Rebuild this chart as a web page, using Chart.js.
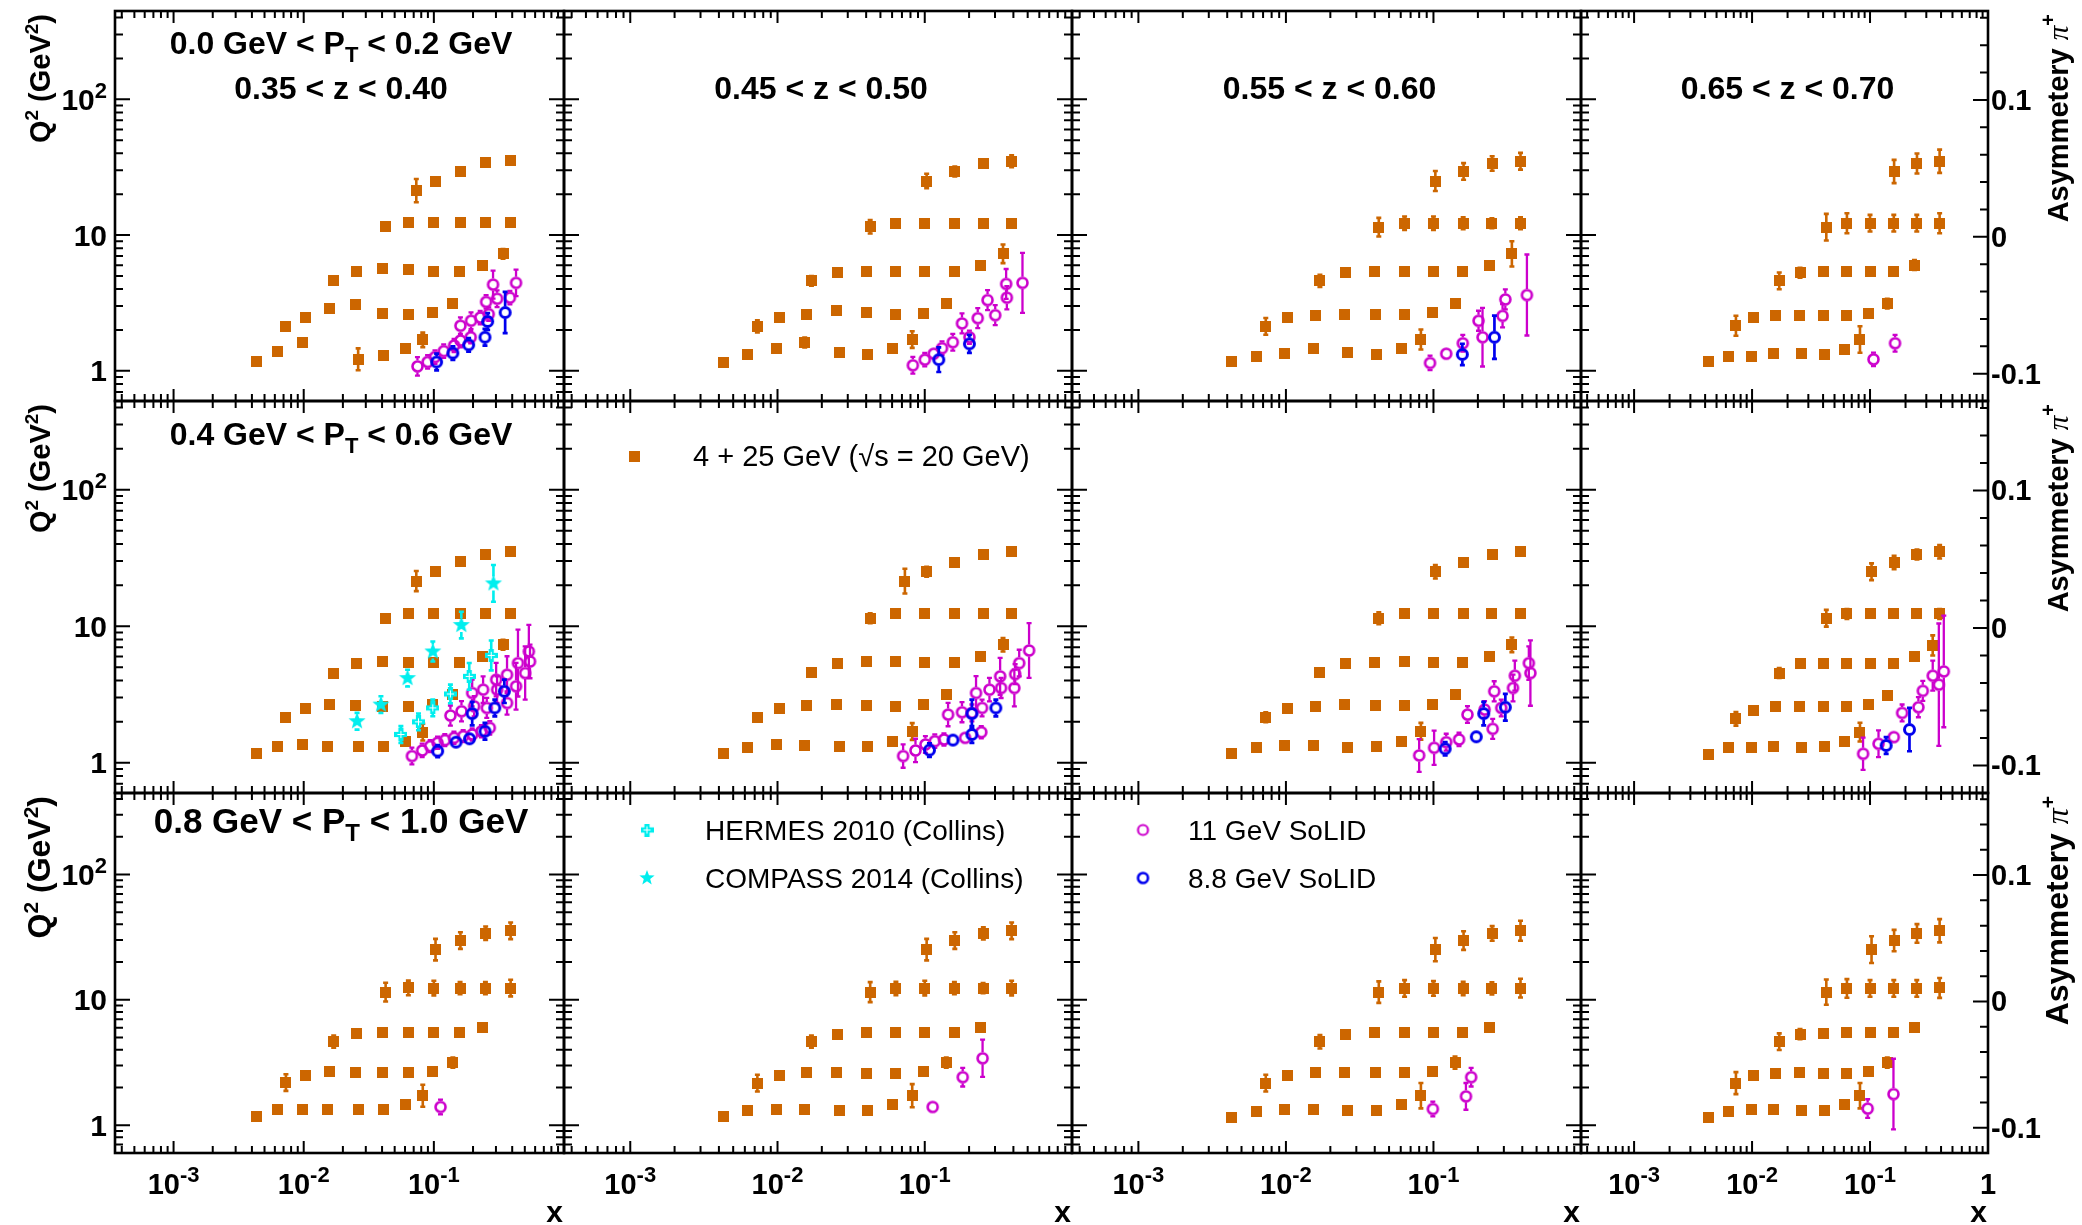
<!DOCTYPE html>
<html>
<head>
<meta charset="utf-8">
<title>Asymmetry projections</title>
<script src="https://cdn.jsdelivr.net/npm/chart.js@4.4.1/dist/chart.umd.min.js"></script>
<style>
html,body{margin:0;padding:0;background:#ffffff;}
body{position:relative;width:2082px;height:1225px;overflow:hidden;}
canvas{position:absolute;display:block;}
</style>
</head>
<body>
<script>
// ---------------- DATA ----------------
// x bins of the 4+25 GeV projection, one list per Q^2 row (A lowest ... E highest)
const orangeX_A = [0.0043, 0.0063, 0.0098, 0.0153, 0.0262, 0.0410, 0.0603, 0.0822];
const orangeX_B = [0.0073, 0.0103, 0.0158, 0.0251, 0.0402, 0.0635, 0.0980, 0.140];
const orangeX_C = [0.0170, 0.0255, 0.0400, 0.0634, 0.100, 0.1585, 0.238, 0.340];
const orangeX_D = [0.0426, 0.0637, 0.100, 0.159, 0.249, 0.389];
const orangeX_E = [0.0733, 0.103, 0.160, 0.250, 0.389];

// tick labels
const xTickVals = [0.001, 0.01, 0.1, 1];
const xTickBase = ['10', '10', '10', '1'];
const xTickExp  = ['-3', '-2', '-1', ''];
const yTickVals = [1, 10, 100];
const yTickBase = ['1', '10', '10'];
const yTickExp  = ['', '', '2'];
const asymTickVals = [-0.1, 0, 0.1];
const asymTickText = ['-0.1', '0', '0.1'];

// panel labels
const zBins  = ['0.35 < z < 0.40', '0.45 < z < 0.50', '0.55 < z < 0.60', '0.65 < z < 0.70'];
const ptLow  = ['0.0', '0.4', '0.8'];
const ptHigh = ['0.2', '0.6', '1.0'];
const legendText = ['4 + 25 GeV (\u221As = 20 GeV)', 'HERMES 2010 (Collins)', 'COMPASS 2014 (Collins)', '11 GeV SoLID', '8.8 GeV SoLID'];

// orange (4+25 GeV) plotted Q^2 positions, rows A..E; errors in asymmetry units
const p11_orange = [[1.176,1.390,1.608,null,1.216,1.307,1.462,1.691],[2.114,2.473,2.859,3.075,2.660,2.615,2.675,3.127],[4.598,5.347,5.687,5.561,5.438,5.438,6.015,7.272],[11.50,12.30,12.30,12.30,12.30,12.30],[21.27,25.01,29.40,34.01,35.36]];
const p11_orangeErr = [[0,0,0,0,0.008,0,0,0.0053],[0,0,0,0,0,0,0,0],[0,0,0,0,0,0,0,0.0036],[0,0,0,0,0,0],[0.0085,0.0029,0,0,0]];
const p12_orange = [[1.144,1.330,1.462,1.617,1.367,1.315,1.462,1.701],[2.127,2.473,2.615,2.765,2.675,2.615,2.660,3.127],[4.598,5.288,5.408,5.408,5.408,5.408,6.015,7.272],[11.50,12.23,12.23,12.23,12.23,12.23],[null,25.01,29.40,33.63,34.97]];
const p12_orangeErr = [[0,0,0,0.0036,0,0,0,0.0061],[0.0044,0,0,0,0,0,0,0],[0.0036,0,0,0,0,0,0,0.0068],[0.0049,0,0,0,0,0.0024],[0,0.0053,0.0036,0.0029,0.0044]];
const p13_orange = [[1.163,1.286,1.345,1.470,1.375,1.315,1.454,1.701],[2.127,2.473,2.572,2.615,2.615,2.590,2.675,3.127],[4.598,5.288,5.408,5.408,5.408,5.408,6.015,7.272],[11.43,12.23,12.23,12.23,12.23,12.23],[null,25.01,29.40,33.63,34.97]];
const p13_orangeErr = [[0,0,0,0,0,0,0,0.0073],[0.0061,0,0,0,0,0,0,0.0029],[0.0044,0,0,0,0,0,0,0.0092],[0.0068,0.0049,0.0049,0.0044,0.0036,0.0044],[0,0.0073,0.0061,0.0053,0.0061]];
const p14_orange = [[1.176,1.286,1.286,1.352,1.352,1.330,1.438,1.701],[2.151,2.473,2.550,2.572,2.572,2.572,2.644,3.127],[4.598,5.288,5.408,5.408,5.408,5.408,6.015,null],[11.43,12.23,12.23,12.23,12.23,12.23],[null,null,29.40,33.63,34.97]];
const p14_orangeErr = [[0,0,0,0,0,0,0,0.0097],[0.0073,0,0,0,0,0,0,0.0036],[0.0061,0.0036,0.0029,0,0,0,0.0036,0],[0.0097,0.0073,0.0061,0.0061,0.0061,0.0073],[0,0,0.0085,0.0073,0.0085]];
const p21_orange = [[1.170,1.309,1.361,1.323,1.309,1.309,1.439,1.674],[2.130,2.479,2.666,2.621,2.592,2.592,2.666,3.160],[4.540,5.370,5.522,5.430,5.430,5.430,6.004,7.306],[11.44,12.44,12.44,12.44,12.44,12.44],[21.42,25.06,29.65,33.73,35.47]];
const p21_orangeErr = [[0,0,0,0,0,0,0,0.0061],[0,0,0,0,0,0,0,0],[0,0,0,0,0,0,0,0.0036],[0,0,0,0,0,0],[0.0073,0,0,0,0]];
const p22_orange = [[1.170,1.301,1.361,1.331,1.309,1.309,1.439,1.693],[2.154,2.479,2.621,2.651,2.621,2.592,2.666,3.136],[4.590,5.310,5.522,5.522,5.430,5.430,6.004,7.306],[11.44,12.30,12.30,12.30,12.30,12.30],[21.42,25.06,29.49,33.73,35.27]];
const p22_orangeErr = [[0,0,0,0,0,0,0,0.0061],[0,0,0,0,0,0,0,0],[0,0,0,0,0,0,0,0.0049],[0.0036,0,0,0,0,0],[0.009,0.0036,0,0,0]];
const p23_orange = [[1.163,1.301,1.346,1.331,1.301,1.316,1.439,1.700],[2.154,2.479,2.592,2.651,2.621,2.621,2.666,3.136],[4.590,5.310,5.430,5.470,5.450,5.430,6.004,7.306],[11.44,12.30,12.30,12.30,12.30,12.30],[null,25.06,29.49,33.73,35.27]];
const p23_orangeErr = [[0,0,0,0,0,0,0,0.0061],[0.0036,0,0,0,0,0,0,0],[0,0,0,0,0,0,0,0.0053],[0.0044,0,0,0,0,0],[0,0.0049,0,0,0]];
const p24_orange = [[1.150,1.301,1.301,1.323,1.301,1.309,1.423,1.674],[2.095,2.420,2.562,2.592,2.592,2.592,2.651,3.100],[4.540,5.310,5.370,5.370,5.370,5.370,5.950,7.230],[11.44,12.30,12.30,12.30,12.30,12.30],[null,25.06,29.30,33.60,35.10]];
const p24_orangeErr = [[0,0,0,0,0,0,0,0.0068],[0.0049,0,0,0,0,0,0,0],[0.0036,0,0,0,0,0,0,0.0073],[0.0061,0.0036,0.0029,0.0029,0.0029,0.0036],[0,0.0061,0.0049,0.0036,0.0049]];
const p31_orange = [[1.171,1.323,1.339,1.323,1.323,1.323,1.449,1.719],[2.190,2.500,2.663,2.630,2.630,2.630,2.679,3.157],[4.632,5.394,5.530,5.494,5.494,5.460,6.040,null],[11.52,12.45,12.41,12.41,12.41,12.41],[null,25.14,29.70,34.00,35.55]];
const p31_orangeErr = [[0,0,0,0,0,0,0,0.0087],[0.0066,0,0,0,0,0,0,0.004],[0.0048,0,0,0,0,0,0,0],[0.0074,0.0058,0.0058,0.0048,0.0048,0.0066],[0,0.0085,0.0066,0.0053,0.0066]];
const p32_orange = [[1.171,1.307,1.323,1.323,1.315,1.307,1.449,1.719],[2.165,2.476,2.614,2.630,2.598,2.598,2.663,3.157],[4.632,5.330,5.530,5.460,5.460,5.460,6.040,null],[11.52,12.33,12.41,12.41,12.41,12.41],[null,25.14,29.70,33.86,35.55]];
const p32_orangeErr = [[0,0,0,0,0,0,0,0.0092],[0.0066,0,0,0,0,0,0,0.004],[0.0048,0,0,0,0,0,0,0],[0.0079,0.0053,0.0058,0.0048,0.004,0.0058],[0,0.0085,0.0066,0.0048,0.0066]];
const p33_orange = [[1.157,1.291,1.331,1.331,1.315,1.315,1.449,1.719],[2.165,2.490,2.630,2.630,2.630,2.630,2.663,3.157],[4.632,5.330,5.460,5.500,5.460,5.460,6.040,null],[11.52,12.33,12.33,12.33,12.33,12.41],[null,25.14,29.70,33.86,35.55]];
const p33_orangeErr = [[0,0,0,0,0,0,0,0.01],[0.0066,0,0,0,0,0,0,0.0048],[0.0053,0,0,0,0,0,0,0],[0.0085,0.0066,0.0058,0.0053,0.0048,0.0074],[0,0.0092,0.0074,0.0058,0.0079]];
const p34_orange = [[1.157,1.291,1.323,1.323,1.315,1.307,1.449,1.719],[2.165,2.490,2.598,2.630,2.598,2.598,2.679,3.157],[4.632,5.330,5.394,5.460,5.460,5.460,6.017,null],[11.52,12.33,12.33,12.33,12.33,12.45],[null,25.14,29.70,33.86,35.55]];
const p34_orangeErr = [[0,0,0,0,0,0,0,0.01],[0.0087,0,0,0,0,0,0,0.004],[0.0066,0.004,0,0,0,0,0.0032,0],[0.01,0.0074,0.0066,0.0066,0.0066,0.0079],[0,0.0106,0.0085,0.0074,0.0092]];

// SoLID 11 GeV (magenta) and 8.8 GeV (blue): [x, plotted Q^2, error in asymmetry units]
const p11_mag = [[0.0748,1.08,0.0068],[0.0895,1.163,0.0049],[0.102,1.264,0.0049],[0.119,1.398,0.0049],[0.143,1.538,0.0049],[0.160,1.672,0.0049],[0.192,1.769,0.0044],[0.160,2.15,0.0061],[0.193,2.34,0.0061],[0.227,2.47,0.0049],[0.252,3.22,0.0049],[0.264,2.615,0.0049],[0.285,4.32,0.0102],[0.306,3.40,0.0061],[0.384,3.46,0.0049],[0.428,4.45,0.0097]];
const p11_blue = [[0.105,1.163,0.0061],[0.140,1.352,0.0049],[0.185,1.555,0.0049],[0.247,1.769,0.0061],[0.259,2.31,0.0061],[0.353,2.69,0.0151]];
const p12_mag = [[0.083,1.10,0.0061],[0.100,1.209,0.0049],[0.115,1.337,0.0036],[0.131,1.470,0.0049],[0.155,1.626,0.0061],[0.179,2.236,0.0073],[0.201,1.769,0.0049],[0.229,2.445,0.0073],[0.267,3.32,0.0073],[0.301,2.572,0.0073],[0.357,4.37,0.0109],[0.361,3.46,0.0085],[0.461,4.45,0.0219]];
const p12_blue = [[0.1245,1.209,0.009],[0.201,1.581,0.0066]];
const p13_mag = [[0.0948,1.144,0.0053],[0.122,1.337,0.0036],[0.158,1.599,0.0061],[0.202,2.339,0.0073],[0.215,1.769,0.0214],[0.307,3.36,0.0073],[0.294,2.543,0.0085],[0.430,3.62,0.0296]];
const p13_blue = [[0.157,1.322,0.0078],[0.259,1.769,0.0158]];
const p14_mag = [[0.107,1.216,0.0049],[0.163,1.599,0.0061]];
const p14_blue = [];
const p21_mag = [[0.0678,1.119,0.0061],[0.0813,1.230,0.0049],[0.0937,1.323,0.0044],[0.1067,1.40,0.0044],[0.1214,1.464,0.0044],[0.1427,1.522,0.0044],[0.168,1.565,0.0044],[0.197,1.61,0.0044],[0.232,1.70,0.0044],[0.269,1.80,0.0049],[0.134,2.216,0.0073],[0.163,2.383,0.0073],[0.197,3.243,0.0097],[0.204,2.592,0.0073],[0.239,3.43,0.0097],[0.255,2.52,0.0073],[0.301,4.058,0.0122],[0.306,3.43,0.0097],[0.365,4.414,0.0134],[0.365,2.74,0.0085],[0.428,3.63,0.017],[0.443,5.37,0.0243],[0.503,4.54,0.0194],[0.537,6.53,0.0194],[0.548,5.52,0.0122]];
const p21_blue = [[0.107,1.217,0.0044],[0.148,1.415,0.0036],[0.188,1.497,0.0036],[0.247,1.70,0.0061],[0.197,2.29,0.0085],[0.294,2.52,0.0061],[0.348,3.336,0.0085]];
const p22_mag = [[0.0713,1.119,0.0085],[0.0865,1.230,0.0085],[0.101,1.361,0.0061],[0.117,1.439,0.0049],[0.135,1.480,0.0044],[0.144,2.253,0.0085],[0.179,2.344,0.0073],[0.188,1.522,0.0036],[0.209,2.317,0.0061],[0.223,3.243,0.0122],[0.242,1.674,0.0044],[0.245,2.52,0.0061],[0.275,3.43,0.0085],[0.325,4.292,0.0134],[0.330,3.528,0.0073],[0.406,3.528,0.0134],[0.411,4.46,0.0073],[0.438,5.37,0.0097],[0.511,6.642,0.0199]];
const p22_blue = [[0.1076,1.237,0.0049],[0.1555,1.465,0.0036],[0.209,1.61,0.0061],[0.209,2.29,0.0102],[0.304,2.52,0.0061]];
const p23_mag = [[0.080,1.131,0.0119],[0.101,1.287,0.0124],[0.122,1.415,0.0061],[0.149,1.480,0.0049],[0.170,2.253,0.0061],[0.222,2.451,0.0061],[0.252,1.77,0.0073],[0.258,3.336,0.0073],[0.288,2.52,0.0061],[0.346,3.528,0.0097],[0.356,4.34,0.0109],[0.443,5.37,0.0122],[0.454,4.54,0.0238]];
const p23_blue = [[0.120,1.265,0.0049],[0.195,1.549,0.0029],[0.219,2.29,0.0085],[0.307,2.55,0.0097]];
const p24_mag = [[0.0873,1.163,0.0117],[0.118,1.376,0.0097],[0.159,1.54,0.0036],[0.187,2.317,0.0061],[0.257,2.55,0.0073],[0.280,3.36,0.0073],[0.340,4.34,0.0109],[0.383,3.73,0.0445],[0.422,4.668,0.0406]];
const p24_blue = [[0.137,1.338,0.0061],[0.216,1.751,0.0158]];
const p31_mag = [[0.1125,1.397,0.0058]];
const p31_blue = [];
const p32_mag = [[0.1132,1.397,0.0032],[0.181,2.416,0.0074],[0.247,3.418,0.0148]];
const p32_blue = [];
const p33_mag = [[0.099,1.347,0.0058],[0.166,1.698,0.0106],[0.180,2.416,0.0074]];
const p33_blue = [];
const p34_mag = [[0.0955,1.356,0.0074],[0.158,1.77,0.028]];
const p34_blue = [];

// existing data, shown in the 0.4-0.6 GeV, 0.35<z<0.40 panel
const hermes2010 = [[0.0558,1.610,0.0061],[0.0762,1.992,0.0061],[0.0981,2.52,0.0061],[0.134,3.19,0.0068],[0.187,4.29,0.0097],[0.276,6.11,0.0109]];
const compass2014 = [[0.0257,2.014,0.0061],[0.0392,2.666,0.0061],[0.0628,4.17,0.0061],[0.0982,6.53,0.0073],[0.1626,10.2,0.0097],[0.287,20.6,0.0134]];

// axis ranges (right axis: asymmetry, 0.1 per decade of Q^2)
const xRange = [3.548e-4, 1];
const q2Range = [0.631, 446.7];
const asymRange = [-0.12, 0.165];

// ---------------- LAYOUT / STYLE ----------------
const SANS = '"Liberation Sans", Arial, Helvetica, sans-serif';
const SERIF = '"Liberation Serif", "Times New Roman", serif';
const colL = [115, 564, 1072, 1581], colR = [564, 1072, 1581, 1988];
const rowT = [11, 401, 793], rowB = [401, 793, 1153];
const C_OR = '#cc6600', C_MAG = '#cc00cc', C_BLUE = '#0000ee', C_CY = '#00eeee';

function mk(w, h, fn) { const c = document.createElement('canvas'); c.width = w; c.height = h; fn(c.getContext('2d')); return c; }
const mSquare = mk(11, 11, g => { g.fillStyle = C_OR; g.fillRect(0, 0, 11, 11); });
const mSquareL = mk(11, 11, g => { g.fillStyle = C_OR; g.fillRect(0, 0, 11, 11); });
const mCircle = (col, lw, r) => mk(2 * r + 5, 2 * r + 5, g => { g.strokeStyle = col; g.lineWidth = lw; g.beginPath(); g.arc(r + 2.5, r + 2.5, r, 0, Math.PI * 2); g.stroke(); });
const mMag = mCircle(C_MAG, 2.6, 5), mBlue = mCircle(C_BLUE, 3.0, 5);
const mMagL = mCircle(C_MAG, 2.2, 5), mBlueL = mCircle(C_BLUE, 2.6, 5);
const mCross = (s) => mk(s, s, g => { const a = s / 2, t = s * 0.2; g.fillStyle = C_CY; g.fillRect(a - t, 0, 2 * t, s); g.fillRect(0, a - t, s, 2 * t); g.strokeStyle = '#ffffff'; g.lineWidth = 1; g.beginPath(); g.moveTo(a, a - t - 1); g.lineTo(a, a + t + 1); g.moveTo(a - t - 1, a); g.lineTo(a + t + 1, a); g.stroke(); });
const mStar = (R) => mk(2 * R + 2, 2 * R + 2, g => { g.fillStyle = C_CY; g.beginPath(); for (let i = 0; i < 10; i++) { const rr = i % 2 ? R * 0.42 : R; const an = -Math.PI / 2 + i * Math.PI / 5; g.lineTo(R + 1 + rr * Math.cos(an), R + 1 + rr * Math.sin(an)); } g.closePath(); g.fill(); });
const mHer = mCross(13), mHerL = mCross(13), mCom = mStar(9), mComL = mStar(8);

function drawRich(ctx, parts, x, y, align) {
  let w = 0;
  parts.forEach(p => { ctx.font = p.f; w += ctx.measureText(p.t).width; });
  let cx = align === 'center' ? x - w / 2 : (align === 'right' ? x - w : x);
  ctx.textAlign = 'left'; ctx.textBaseline = 'alphabetic';
  parts.forEach(p => { ctx.font = p.f; ctx.fillText(p.t, cx, y + (p.dy || 0)); cx += ctx.measureText(p.t).width; });
}
const B = (s) => `bold ${s}px ${SANS}`;

const errorBarPlugin = {
  id: 'errbars',
  beforeDatasetDraw(chart, args) {
    const ds = chart.data.datasets[args.index];
    if (!ds.errColor) return;
    const ctx = chart.ctx, ya = chart.scales.yA;
    const zero = ya.getPixelForValue(0);
    ctx.save(); ctx.strokeStyle = ds.errColor; ctx.lineWidth = ds.errWidth; ctx.lineCap = 'butt';
    ctx.beginPath();
    args.meta.data.forEach((pt, j) => {
      const e = ds.data[j].e; if (!e) return;
      const L = Math.abs(ya.getPixelForValue(e) - zero), g = ds.errGap;
      if (L <= g) return;
      ctx.moveTo(pt.x, pt.y - g); ctx.lineTo(pt.x, pt.y - L);
      ctx.moveTo(pt.x, pt.y + g); ctx.lineTo(pt.x, pt.y + L);
      ctx.moveTo(pt.x - 2.5, pt.y - L); ctx.lineTo(pt.x + 2.5, pt.y - L);
      ctx.moveTo(pt.x - 2.5, pt.y + L); ctx.lineTo(pt.x + 2.5, pt.y + L);
    });
    ctx.stroke(); ctx.restore();
  }
};

function framePlugin(r, c, offX, offY) {
  return {
    id: 'rootFrame',
    afterDraw(chart) {
      const ctx = chart.ctx, a = chart.chartArea, xs = chart.scales.x, ys = chart.scales.y, ya = chart.scales.yA;
      ctx.save();
      ctx.strokeStyle = '#000'; ctx.fillStyle = '#000'; ctx.lineWidth = 2;
      ctx.beginPath();
      for (let d = -4; d <= 0; d++) for (let m = 1; m <= 9; m++) {
        const v = m * Math.pow(10, d);
        if (v < xRange[0] || v > xRange[1] * 1.0001) continue;
        const px = xs.getPixelForValue(v), len = m === 1 ? 12 : 7;
        ctx.moveTo(px, a.bottom); ctx.lineTo(px, a.bottom - len);
        ctx.moveTo(px, a.top); ctx.lineTo(px, a.top + len);
      }
      for (let d = -1; d <= 2; d++) for (let m = 1; m <= 9; m++) {
        const v = m * Math.pow(10, d);
        if (v < q2Range[0] || v > q2Range[1]) continue;
        const py = ys.getPixelForValue(v), len = m === 1 ? 15 : 8;
        ctx.moveTo(a.left, py); ctx.lineTo(a.left + len, py);
        if (c !== 3) { ctx.moveTo(a.right, py); ctx.lineTo(a.right - len, py); }
      }
      if (c === 3) {
        for (let k = -6; k <= 8; k++) {
          const v = k * 0.02; if (v < asymRange[0] || v > asymRange[1]) continue;
          const py = ya.getPixelForValue(v), len = (k % 5 === 0) ? 15 : 8;
          ctx.moveTo(a.right, py); ctx.lineTo(a.right - len, py);
        }
      }
      ctx.stroke();
      ctx.lineWidth = 2.6;
      ctx.strokeRect(a.left, a.top, a.right - a.left, a.bottom - a.top);

      // tick labels
      if (c === 0) {
        yTickVals.forEach((v, i) => {
          const py = ys.getPixelForValue(v);
          drawRich(ctx, [{ t: yTickBase[i], f: B(30) }, { t: yTickExp[i], f: B(22), dy: -12 }], a.left - 8, py + 10.5, 'right');
        });
      }
      if (c === 3) {
        asymTickVals.forEach((v, i) => {
          const py = ya.getPixelForValue(v);
          drawRich(ctx, [{ t: asymTickText[i], f: B(29) }], a.right + 3, py + 10, 'left');
        });
      }
      if (r === 2) {
        xTickVals.forEach((v, i) => {
          if (v === 1 && c !== 3) return;
          const px = xs.getPixelForValue(v);
          drawRich(ctx, [{ t: xTickBase[i], f: B(29) }, { t: xTickExp[i], f: B(22), dy: -12 }], px, 1194 - offY, 'center');
        });
        ctx.font = B(30); ctx.textAlign = 'right'; ctx.textBaseline = 'alphabetic';
        ctx.fillText('x', a.right - 1, 1222 - offY);
      }

      // page-coordinate annotations
      ctx.translate(-offX, -offY);
      const big = r === 2;
      if (c === 0) {
        ctx.save(); ctx.translate(40, rowT[r] + 3); ctx.rotate(-Math.PI / 2);
        const s = big ? 32 : 29, ss = big ? 21 : 19;
        drawRich(ctx, [{ t: 'Q', f: B(s) }, { t: '2', f: B(ss), dy: -12 }, { t: ' (GeV', f: B(s) }, { t: '2', f: B(ss), dy: -12 }, { t: ')', f: B(s) }], 0, 10, 'right');
        ctx.restore();
        const ts = big ? 35 : 32, tss = big ? 24 : 22;
        const ty = [54, 445, 833][r];
        drawRich(ctx, [{ t: ptLow[r] + ' GeV < P', f: B(ts) }, { t: 'T', f: B(tss), dy: 8 }, { t: ' < ' + ptHigh[r] + ' GeV', f: B(ts) }], 341, ty, 'center');
      }
      if (c === 3) {
        ctx.save(); ctx.translate(2058, rowT[r] + 3); ctx.rotate(-Math.PI / 2);
        const s = big ? 32 : 29, ss = big ? 21 : 20;
        drawRich(ctx, [{ t: 'Asymmetery ', f: B(s) }, { t: '\u03C0', f: `italic ${s}px ${SERIF}` }, { t: '+', f: B(ss), dy: -13 }], 0, 10, 'right');
        ctx.restore();
      }
      if (r === 0) {
        const cx = c === 0 ? 341 : (colL[c] + colR[c]) / 2 + 3;
        drawRich(ctx, [{ t: zBins[c], f: B(32) }], cx, 99, 'center');
      }
      const R = `28px ${SANS}`;
      if (r === 1 && c === 1) {
        ctx.drawImage(mSquareL, 634 - 5.5, 456 - 5.5);
        drawRich(ctx, [{ t: legendText[0], f: `29px ${SANS}` }], 693, 466, 'left');
      }
      if (r === 2 && c === 1) {
        ctx.drawImage(mHerL, 647 - 6.5, 830 - 6.5);
        drawRich(ctx, [{ t: legendText[1], f: R }], 705, 840, 'left');
        ctx.drawImage(mComL, 647 - 9, 878 - 9);
        drawRich(ctx, [{ t: legendText[2], f: R }], 705, 888, 'left');
      }
      if (r === 2 && c === 2) {
        ctx.drawImage(mMagL, 1143 - 7.5, 830 - 7.5);
        drawRich(ctx, [{ t: legendText[3], f: R }], 1188, 840, 'left');
        ctx.drawImage(mBlueL, 1143 - 7.5, 878 - 7.5);
        drawRich(ctx, [{ t: legendText[4], f: R }], 1188, 888, 'left');
      }
      ctx.restore();
    }
  };
}

const orangeXs = [orangeX_A, orangeX_B, orangeX_C, orangeX_D, orangeX_E];
const PANELS = [
  [[p11_orange, p11_orangeErr, p11_mag, p11_blue], [p12_orange, p12_orangeErr, p12_mag, p12_blue], [p13_orange, p13_orangeErr, p13_mag, p13_blue], [p14_orange, p14_orangeErr, p14_mag, p14_blue]],
  [[p21_orange, p21_orangeErr, p21_mag, p21_blue], [p22_orange, p22_orangeErr, p22_mag, p22_blue], [p23_orange, p23_orangeErr, p23_mag, p23_blue], [p24_orange, p24_orangeErr, p24_mag, p24_blue]],
  [[p31_orange, p31_orangeErr, p31_mag, p31_blue], [p32_orange, p32_orangeErr, p32_mag, p32_blue], [p33_orange, p33_orangeErr, p33_mag, p33_blue], [p34_orange, p34_orangeErr, p34_mag, p34_blue]]
];

const triplets = (arr) => arr.map(p => ({ x: p[0], y: p[1], e: p[2] }));

function buildPanel(r, c) {
  const padL = c === 0 ? 115 : 14, padR = c === 3 ? 94 : 14, padT = r === 0 ? 11 : 14, padB = r === 2 ? 72 : 14;
  const w = colR[c] - colL[c] + padL + padR, h = rowB[r] - rowT[r] + padT + padB;
  const offX = colL[c] - padL, offY = rowT[r] - padT;
  const cv = document.createElement('canvas');
  cv.width = w; cv.height = h;
  cv.style.left = offX + 'px'; cv.style.top = offY + 'px';
  cv.style.width = w + 'px'; cv.style.height = h + 'px';
  document.body.appendChild(cv);
  const [oy, oe, mag, blue] = PANELS[r][c];
  const datasets = [];
  orangeXs.forEach((xs, k) => {
    datasets.push({
      label: 'EIC row ' + k,
      data: xs.map((x, i) => ({ x, y: oy[k][i], e: oe[k][i] })).filter(d => d.y !== null && d.y !== undefined),
      pointStyle: mSquare, pointRadius: 5, order: 5,
      errColor: C_OR, errWidth: 2.6, errGap: 4
    });
  });
  datasets.push({ label: '11 GeV SoLID', data: triplets(mag), pointStyle: mMag, pointRadius: 6, order: 4, errColor: C_MAG, errWidth: 2.3, errGap: 6 });
  datasets.push({ label: '8.8 GeV SoLID', data: triplets(blue), pointStyle: mBlue, pointRadius: 6, order: 3, errColor: C_BLUE, errWidth: 2.7, errGap: 6 });
  if (r === 1 && c === 0) {
    datasets.push({ label: 'HERMES 2010', data: triplets(hermes2010), pointStyle: mHer, pointRadius: 6, order: 2, errColor: C_CY, errWidth: 2.6, errGap: 6 });
    datasets.push({ label: 'COMPASS 2014', data: triplets(compass2014), pointStyle: mCom, pointRadius: 8, order: 1, errColor: C_CY, errWidth: 2.6, errGap: 7 });
  }
  new Chart(cv, {
    type: 'scatter',
    data: { datasets },
    options: {
      responsive: false, animation: false, events: [],
      devicePixelRatio: 1,
      layout: { padding: { left: padL, right: padR, top: padT, bottom: padB } },
      plugins: { legend: { display: false }, tooltip: { enabled: false }, title: { display: false } },
      scales: {
        x: { type: 'logarithmic', min: xRange[0], max: xRange[1], display: false },
        y: { type: 'logarithmic', min: q2Range[0], max: q2Range[1], display: false },
        yA: { type: 'linear', min: asymRange[0], max: asymRange[1], display: false, position: 'right' }
      }
    },
    plugins: [errorBarPlugin, framePlugin(r, c, offX, offY)]
  });
}

for (let r = 0; r < 3; r++) for (let c = 0; c < 4; c++) buildPanel(r, c);
</script>
</body>
</html>
